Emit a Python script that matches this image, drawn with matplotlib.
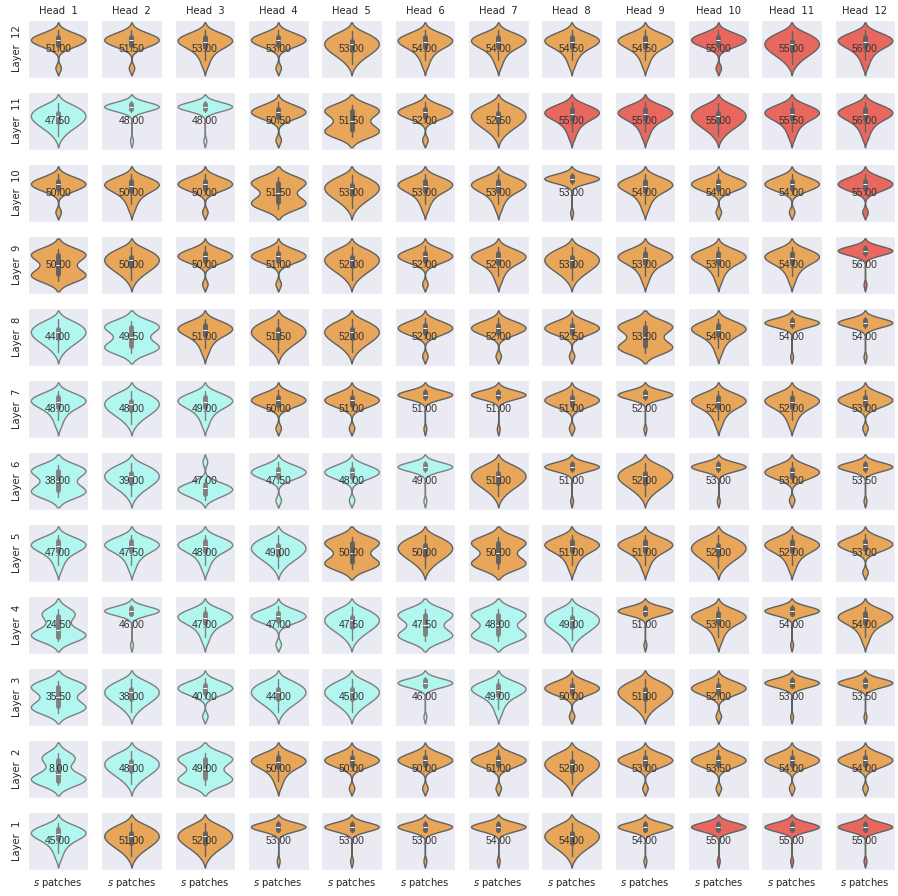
import numpy as np
import pandas as pd
import seaborn as sns
import matplotlib.pyplot as plt

# medians of s patches per layer (rows: Layer 12 -> Layer 1) and head (cols: Head 1 -> 12)
layers = [12, 11, 10, 9, 8, 7, 6, 5, 4, 3, 2, 1]
heads = list(range(1, 13))

medians = [
    [51, 51.5, 53, 53, 53, 54, 54, 54.5, 54.5, 55, 55, 56],
    [47.5, 48, 48, 50.5, 51.5, 52, 52.5, 55, 55, 55, 55.5, 56],
    [50, 50, 50, 51.5, 53, 53, 53, 53, 54, 54, 54, 55],
    [50, 50, 50, 51, 52, 52, 52, 53, 53, 53, 54, 56],
    [44, 49.5, 51, 51.5, 52, 52, 52, 52.5, 53, 54, 54, 54],
    [48, 48, 49, 50, 51, 51, 51, 51, 52, 52, 52, 53],
    [38, 39, 47, 47.5, 48, 49, 51, 51, 52, 53, 53, 53.5],
    [47, 47.5, 48, 49, 50, 50, 50, 51, 51, 52, 52, 53],
    [24.5, 46, 47, 47, 47.5, 47.5, 48, 49, 51, 53, 54, 54],
    [35.5, 38, 40, 44, 45, 46, 49, 50, 51, 52, 53, 53.5],
    [8, 48, 49, 50, 50, 50, 51, 52, 53, 53.5, 54, 54],
    [45, 51, 52, 53, 53, 53, 54, 54, 54, 55, 55, 55],
]

# shape of each distribution (B bulb, F flat, A arrow, R round, T twin, L low twin, S spike up)
shapes = [
    "BBABRAAAABRA",
    "RFFBTBRAARAA",
    "BABTRAAFABBB",
    "TRBBRBARAAAF",
    "RTARRBBBTAFF",
    "ARABBFFBFAAB",
    "TRSBBFRFRFBF",
    "AAARTRTAARAB",
    "LFABRTTRFAFA",
    "TRBRRFABRBFF",
    "LRTABBBRBBBB",
    "ARRFFFFRFFFF",
]

# offsets from the median and how many samples sit there
shape_offsets = {
    "B": [-11, -4, -3, -2, -1, 0, 1, 2, 3, 4],
    "F": [-12, -2, -1, 0, 1, 2],
    "A": [-8, -7, -6, -5, -4, -3, -2, -1, 0, 1, 2, 3],
    "R": [-7, -6, -5, -4, -3, -2, -1, 0, 1, 2, 3, 4],
    "T": [-5, -4, -3, -2, -1, 0, 1, 2, 3, 4, 5],
    "L": [-2, -1, 0, 1, 2, 3, 4, 5, 6, 7],
    "S": [-4, -3, -2, -1, 0, 1, 2, 3, 9],
}
shape_counts = {
    "B": [3, 2, 4, 7, 9, 10, 9, 7, 4, 2],
    "F": [2, 4, 12, 20, 12, 4],
    "A": [1, 1, 1, 2, 2, 3, 5, 7, 8, 7, 5, 2],
    "R": [1, 1, 2, 3, 4, 5, 6, 6, 6, 5, 4, 2],
    "T": [3, 5, 5, 3, 2, 1, 2, 3, 5, 5, 3],
    "L": [4, 7, 8, 4, 2, 1, 2, 4, 5, 3],
    "S": [2, 4, 6, 8, 9, 7, 4, 2, 2],
}

cyan = "#b2f7ef"
orange = "#e8a65a"
red = "#e8685f"


def pick_color(m):
    if m < 50:
        return cyan
    if m < 55:
        return orange
    return red


sns.set_style("darkgrid")

fig, axes = plt.subplots(12, 12, figsize=(8.98, 8.96), dpi=100)
fig.subplots_adjust(left=0.031, right=0.997, top=0.978, bottom=0.029,
                    wspace=0.21, hspace=0.24)

for i, layer in enumerate(layers):
    for j, head in enumerate(heads):
        ax = axes[i, j]
        m = medians[i][j]
        key = shapes[i][j]
        vals = np.repeat(m + np.array(shape_offsets[key], dtype=float), shape_counts[key])
        df = pd.DataFrame({'s': vals})
        sns.violinplot(data=df, y='s', ax=ax, color=pick_color(m), saturation=1,
                       inner='box', linewidth=1, width=0.9,
                       inner_kws={'box_width': 3.5, 'whis_width': 1})
        ax.set_xlim(-0.5, 0.5)
        ax.text(0.5, 0.5, f"{m:.2f}", transform=ax.transAxes, ha='center', va='center',
                fontsize=7.5, color='.2', family='Liberation Sans')
        ax.set_xticks([])
        ax.set_yticks([])
        ax.set_xlabel('')
        ax.set_ylabel('')
        if i == 0:
            ax.set_title(f"Head  {head}", fontsize=7.2, color='.15', pad=4)
        if j == 0:
            ax.set_ylabel(f"Layer  {layer}", fontsize=7.2, color='.15')
        if i == len(layers) - 1:
            ax.set_xlabel("$s$ patches", fontsize=7.2, color='.15')

plt.savefig('out.png', dpi=100)
